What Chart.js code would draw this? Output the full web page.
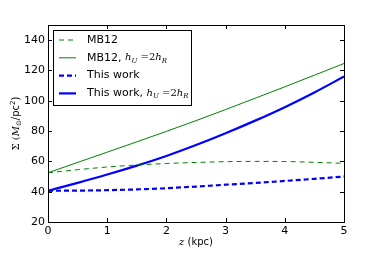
<!DOCTYPE html>
<html>
<head>
<meta charset="utf-8">
<script src="https://cdn.jsdelivr.net/npm/chart.js@4/dist/chart.umd.min.js"></script>
<style>
  html, body { margin: 0; padding: 0; background: #fff; }
  #wrap { width: 382px; height: 254px; }
</style>
</head>
<body>
<div id="wrap"><canvas id="sigmaChart" width="382" height="254"></canvas></div>
<script>
// z in kpc
const zValues = [0, 0.5, 1, 1.5, 2, 2.5, 3, 3.5, 4, 4.5, 5];
const mb12 = [52.5, 54.5, 56.3, 57.6, 58.6, 59.3, 59.8, 60.0, 59.9, 59.4, 58.7];
const mb12Hu = [52.5, 59.3, 66.1, 72.9, 79.8, 86.9, 94.2, 101.7, 109.2, 116.9, 124.6];
const thisWork = [40.6, 40.7, 41.0, 41.5, 42.3, 43.4, 44.6, 45.8, 47.1, 48.5, 50.0];
const thisWorkHu = [40.6, 45.8, 51.3, 57.2, 63.6, 70.8, 78.6, 86.9, 95.8, 105.5, 116.0];
const xTicks = [0, 1, 2, 3, 4, 5];
const yTicks = [20, 40, 60, 80, 100, 120, 140];

const labels = ['MB12', 'MB12, h_U =2h_R', 'This work', 'This work, h_U =2h_R'];

function pts(arr) {
    return arr.map((v, i) => ({ x: zValues[i], y: v }));
}

// draw "prefix, h_U =2h_R" with italic math bits
function drawMath(ctx, x, y, text, size) {
    const parts = text.split(', ');
    ctx.font = size + 'px "DejaVu Sans"';
    if (parts.length < 2) {
        ctx.fillText(parts[0], x, y);
        return;
    }
    ctx.fillText(parts[0] + ',', x, y);
    x += ctx.measureText(parts[0] + ', ').width;
    const it = 'italic ' + (size - 1) + 'px "DejaVu Serif"';
    const sub = 'italic ' + Math.round(size * 0.65) + 'px "DejaVu Serif"';
    const rm = (size - 1) + 'px "DejaVu Serif"';
    const seq = [[it, 'h', 0], [sub, 'U', 3], [rm, ' =2', 0], [it, 'h', 0], [sub, 'R', 3]];
    seq.forEach(s => {
        ctx.font = s[0];
        ctx.fillText(s[1], x, y + s[2]);
        x += ctx.measureText(s[1]).width;
    });
}

const styles = [
    { color: '#008000', width: 1, dash: [5, 4] },
    { color: '#008000', width: 1, dash: [] },
    { color: '#0000ff', width: 2.2, dash: [5, 3] },
    { color: '#0000ff', width: 2.2, dash: [] }
];

const decorPlugin = {
    id: 'decor',
    afterDraw(chart) {
        const ctx = chart.ctx;
        const a = chart.chartArea;
        const xs = chart.scales.x, ys = chart.scales.y;
        ctx.save();
        // frame
        ctx.strokeStyle = '#000';
        ctx.lineWidth = 1;
        ctx.setLineDash([]);
        ctx.strokeRect(a.left + 0.5, a.top + 0.5, a.right - a.left, a.bottom - a.top);
        // inward ticks on all sides
        ctx.beginPath();
        xTicks.forEach(t => {
            const px = Math.round(xs.getPixelForValue(t)) + 0.5;
            ctx.moveTo(px, a.bottom); ctx.lineTo(px, a.bottom - 4);
            ctx.moveTo(px, a.top); ctx.lineTo(px, a.top + 4);
        });
        yTicks.forEach(t => {
            const py = Math.round(ys.getPixelForValue(t)) + 0.5;
            ctx.moveTo(a.left, py); ctx.lineTo(a.left + 4, py);
            ctx.moveTo(a.right, py); ctx.lineTo(a.right - 4, py);
        });
        ctx.stroke();
        // tick labels
        ctx.fillStyle = '#000';
        ctx.font = '11px "DejaVu Sans"';
        ctx.textAlign = 'center';
        ctx.textBaseline = 'top';
        xTicks.forEach(t => ctx.fillText(String(t), xs.getPixelForValue(t), a.bottom + 4));
        ctx.textAlign = 'right';
        ctx.textBaseline = 'middle';
        yTicks.forEach(t => ctx.fillText(String(t), a.left - 3, ys.getPixelForValue(t)));
        // axis titles
        ctx.textAlign = 'left';
        ctx.textBaseline = 'alphabetic';
        const cx = (a.left + a.right) / 2;
        ctx.font = 'italic 10px "DejaVu Serif"';
        const zw = ctx.measureText('z ').width;
        ctx.font = '10px "DejaVu Sans"';
        const kw = ctx.measureText('(kpc)').width;
        let x0 = cx - (zw + kw) / 2;
        ctx.font = 'italic 10px "DejaVu Serif"';
        ctx.fillText('z', x0, 245);
        ctx.font = '10px "DejaVu Sans"';
        ctx.fillText('(kpc)', x0 + zw, 245);

        ctx.translate(19, (a.top + a.bottom) / 2);
        ctx.rotate(-Math.PI / 2);
        const yparts = [['10px "DejaVu Serif"', 'Σ (', 0], ['italic 10px "DejaVu Serif"', 'M', 0],
            ['7px "DejaVu Sans"', '⊙', 2], ['10px "DejaVu Sans"', '/pc', 0],
            ['7px "DejaVu Sans"', '2', -4], ['10px "DejaVu Sans"', ')', 0]];
        let tw = 0;
        yparts.forEach(p => { ctx.font = p[0]; tw += ctx.measureText(p[1]).width; });
        let yx = -tw / 2;
        yparts.forEach(p => {
            ctx.font = p[0];
            ctx.fillText(p[1], yx, 0 + p[2]);
            yx += ctx.measureText(p[1]).width;
        });
        ctx.restore();

        // legend box
        ctx.save();
        const lx = 53.5, ly = 30.5, lw = 138, lh = 75;
        ctx.fillStyle = '#fff';
        ctx.fillRect(lx, ly, lw, lh);
        ctx.strokeStyle = '#000';
        ctx.lineWidth = 1;
        ctx.strokeRect(lx, ly, lw, lh);
        labels.forEach((lab, i) => {
            const rowY = 40 + i * 17.8;
            const s = styles[i];
            ctx.strokeStyle = s.color;
            ctx.lineWidth = s.width;
            ctx.setLineDash(s.dash);
            ctx.beginPath();
            ctx.moveTo(59, rowY);
            ctx.lineTo(76, rowY);
            ctx.stroke();
            ctx.setLineDash([]);
            ctx.fillStyle = '#000';
            ctx.textAlign = 'left';
            ctx.textBaseline = 'middle';
            drawMath(ctx, 87, rowY, lab, 11);
        });
        ctx.restore();
    }
};

const seriesData = [mb12, mb12Hu, thisWork, thisWorkHu];
const ctx = document.getElementById('sigmaChart').getContext('2d');
const sigmaChart = new Chart(ctx, {
    type: 'line',
    data: {
        datasets: seriesData.map((arr, i) => ({
            label: labels[i],
            data: pts(arr),
            borderColor: styles[i].color,
            borderWidth: styles[i].width,
            borderDash: styles[i].dash,
            pointRadius: 0,
            cubicInterpolationMode: 'monotone',
            fill: false
        }))
    },
    options: {
        responsive: false,
        animation: false,
        layout: { padding: { left: 0, right: 38, top: 25, bottom: 0 } },
        plugins: {
            legend: { display: false },
            tooltip: { enabled: false }
        },
        scales: {
            x: {
                type: 'linear',
                min: 0,
                max: 5,
                grid: { display: false },
                border: { display: false },
                ticks: { display: false },
                afterFit: s => { s.height = 32; }
            },
            y: {
                min: 20,
                max: 150,
                grid: { display: false },
                border: { display: false },
                ticks: { display: false },
                afterFit: s => { s.width = 48; }
            }
        }
    },
    plugins: [decorPlugin]
});
</script>
</body>
</html>
